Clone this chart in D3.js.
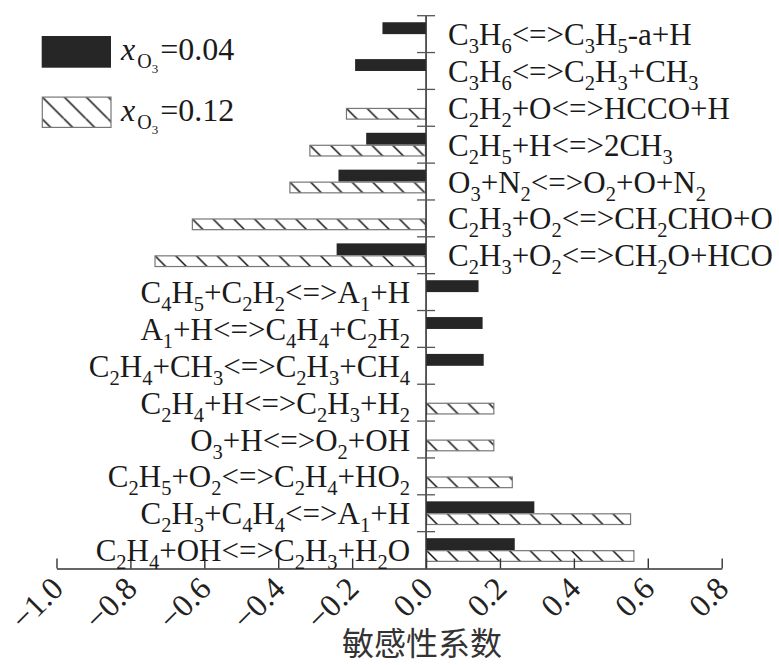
<!DOCTYPE html>
<html>
<head>
<meta charset="utf-8">
<script src="https://cdn.jsdelivr.net/npm/d3@7"></script>
<style>
body { margin: 0; background: #fff; }
</style>
</head>
<body>
<div id="chart"></div>
<script>
var outerWidth = 779,
    outerHeight = 665

// reactions, top to bottom
var reactions = [
    "C3H6<=>C3H5-a+H",
    "C3H6<=>C2H3+CH3",
    "C2H2+O<=>HCCO+H",
    "C2H5+H<=>2CH3",
    "O3+N2<=>O2+O+N2",
    "C2H3+O2<=>CH2CHO+O",
    "C2H3+O2<=>CH2O+HCO",
    "C4H5+C2H2<=>A1+H",
    "A1+H<=>C4H4+C2H2",
    "C2H4+CH3<=>C2H3+CH4",
    "C2H4+H<=>C2H3+H2",
    "O3+H<=>O2+OH",
    "C2H5+O2<=>C2H4+HO2",
    "C2H3+C4H4<=>A1+H",
    "C2H4+OH<=>C2H3+H2O"
]
// x_O3 = 0.04
var valuesLow = [-0.118, -0.192, 0, -0.162, -0.237, 0, -0.242, 0.142, 0.153, 0.156, 0, 0, 0, 0.293, 0.240]
// x_O3 = 0.12
var valuesHigh = [0, 0, -0.217, -0.316, -0.370, -0.634, -0.735, 0, 0, 0, 0.185, 0.185, 0.235, 0.555, 0.564]
var seriesLabels = ["0.04", "0.12"]
var xTicks = [-1.0, -0.8, -0.6, -0.4, -0.2, 0.0, 0.2, 0.4, 0.6, 0.8]
var xTitle = "敏感性系数"

var plotLeft = 56.5, plotRight = 721.7, plotTop = 15.7, plotBottom = 568.5
var mainSize = 31, subSize = 20.5, subDrop = 8

var svg = d3.select("#chart")
    .append("svg")
    .attr("width", outerWidth)
    .attr("height", outerHeight)
    .style("font-family", "'Liberation Serif', 'Times New Roman', serif")

var defs = svg.append("defs")

function hatch(id, step) {
    var p = defs.append("pattern")
        .attr("id", id)
        .attr("patternUnits", "userSpaceOnUse")
        .attr("width", step)
        .attr("height", step)
    p.append("rect").attr("width", step).attr("height", step).attr("fill", "#fff")
    p.append("path")
        .attr("d", "M0,0L" + step + "," + step + "M" + (-step) + ",0L0," + step + "M" + step + ",0L" + (2 * step) + "," + step)
        .attr("stroke", "#111")
        .attr("stroke-width", 1.5)
}
hatch("hatchBar", 20.7)
hatch("hatchLegend", 22)

var xScale = d3.scaleLinear().domain([-1, 0.8]).range([plotLeft, plotRight])
var yScale = d3.scaleBand().domain(reactions).range([plotTop, plotBottom]).padding(0)
var inner = d3.scaleBand().domain(["low", "high"]).range([0, yScale.bandwidth()])
    .paddingInner(0).paddingOuter(0.55)

var rows = reactions.map(function(r, i) {
    return { name: r, low: valuesLow[i], high: valuesHigh[i] }
})

// black bars
svg.append("g").selectAll("rect")
    .data(rows.filter(function(d) { return d.low !== 0 }))
    .join("rect")
    .attr("x", function(d) { return xScale(Math.min(0, d.low)) })
    .attr("y", function(d) { return yScale(d.name) + inner("low") })
    .attr("width", function(d) { return Math.abs(xScale(d.low) - xScale(0)) })
    .attr("height", inner.bandwidth())
    .attr("fill", "#262626")

// hatched bars, each in its own group so the pattern starts at the bar corner
svg.append("g").selectAll("g")
    .data(rows.filter(function(d) { return d.high !== 0 }))
    .join("g")
    .attr("transform", function(d) {
        return "translate(" + xScale(Math.min(0, d.high)) + "," + (yScale(d.name) + inner("high")) + ")"
    })
    .append("rect")
    .attr("x", 0.6)
    .attr("y", 0.6)
    .attr("width", function(d) { return Math.abs(xScale(d.high) - xScale(0)) - 1.2 })
    .attr("height", inner.bandwidth() - 1.2)
    .attr("fill", "url(#hatchBar)")
    .attr("stroke", "#777")
    .attr("stroke-width", 1.2)

// x axis
var xAxis = svg.append("g")
    .attr("transform", "translate(0," + plotBottom + ")")
    .call(d3.axisBottom(xScale).tickValues(xTicks).tickFormat(d3.format(".1f"))
        .tickSizeInner(-10).tickSizeOuter(0))
xAxis.select(".domain").attr("stroke", "#333").attr("stroke-width", 1.6)
xAxis.selectAll(".tick line").attr("stroke", "#333").attr("stroke-width", 1.4)
xAxis.selectAll(".tick text")
    .attr("x", 0).attr("y", 0).attr("dy", 0)
    .attr("text-anchor", "end")
    .attr("transform", "translate(8,22) rotate(-45)")
    .attr("font-family", "'Liberation Serif', serif")
    .attr("font-size", 32)
    .attr("fill", "#222")

// y axis at zero with ticks on band boundaries
var x0 = xScale(0)
var bounds = reactions.map(function(r) { return yScale(r) }).concat([yScale.range()[1]])
svg.append("line")
    .attr("x1", x0).attr("x2", x0)
    .attr("y1", plotTop).attr("y2", plotBottom)
    .attr("stroke", "#333").attr("stroke-width", 1.6)
svg.append("g").selectAll("line")
    .data(bounds.slice(0, -1))
    .join("line")
    .attr("x1", x0 - 9).attr("x2", x0 + 9)
    .attr("y1", function(d) { return d }).attr("y2", function(d) { return d })
    .attr("stroke", "#555").attr("stroke-width", 1.3)

// chemical formula with subscripts
function formula(sel, str) {
    var parts = []
    for (var i = 0; i < str.length; i++) {
        var c = str[i]
        var isSub = /[0-9]/.test(c) && i > 0 &&
            (/[A-Za-z]/.test(str[i - 1]) || (parts.length && parts[parts.length - 1].sub))
        if (parts.length && parts[parts.length - 1].sub === isSub) parts[parts.length - 1].t += c
        else parts.push({ t: c, sub: isSub })
    }
    var shift = 0
    parts.forEach(function(p) {
        var target = p.sub ? subDrop : 0
        sel.append("tspan")
            .attr("dy", target - shift)
            .attr("font-size", p.sub ? subSize : mainSize)
            .text(p.t)
        shift = target
    })
}

svg.append("g").selectAll("text")
    .data(rows)
    .join("text")
    .attr("x", function(d) { return Math.min(d.low, d.high) < 0 ? x0 + 22 : x0 - 16 })
    .attr("y", function(d) { return yScale(d.name) + yScale.bandwidth() / 2 + 11 })
    .attr("text-anchor", function(d) { return Math.min(d.low, d.high) < 0 ? "start" : "end" })
    .attr("font-size", mainSize)
    .attr("fill", "#1a1a1a")
    .each(function(d) { formula(d3.select(this), d.name) })

// legend
var legend = svg.append("g")
seriesLabels.forEach(function(lab, i) {
    var ly = 36 + i * 60.5
    var g = legend.append("g").attr("transform", "translate(41.7," + ly + ")")
    if (i === 0) {
        g.append("rect").attr("width", 69.3).attr("height", 31.7).attr("fill", "#262626")
    } else {
        g.append("rect").attr("x", 0.6).attr("y", 0.6).attr("width", 68.7).attr("height", 30.3)
            .attr("fill", "url(#hatchLegend)").attr("stroke", "#777").attr("stroke-width", 1.2)
    }
    var t = legend.append("text")
        .attr("x", 121)
        .attr("y", ly + 24)
        .attr("fill", "#1a1a1a")
    t.append("tspan").attr("font-style", "italic").attr("font-size", 32).text("x")
    t.append("tspan").attr("font-size", 20).attr("dy", 8).attr("dx", 2).text("O")
    t.append("tspan").attr("font-size", 13).attr("dy", 5).text("3")
    t.append("tspan").attr("font-size", 32).attr("dy", -13).attr("dx", 2).text("=" + lab)
})

// x title
svg.append("text")
    .attr("x", 422)
    .attr("y", 655)
    .attr("text-anchor", "middle")
    .attr("font-family", "'Noto Sans CJK SC', sans-serif")
    .attr("font-size", 32)
    .attr("fill", "#333")
    .text(xTitle)
</script>
</body>
</html>
